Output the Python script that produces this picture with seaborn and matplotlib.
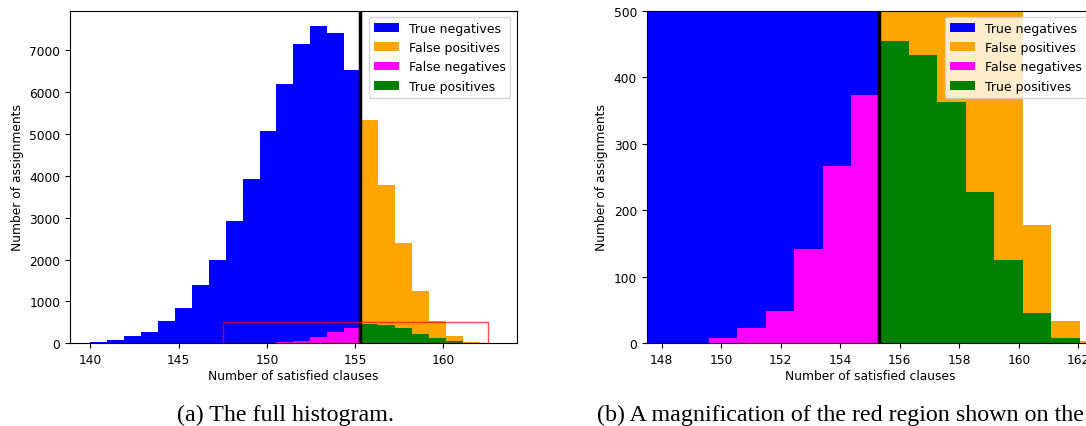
import numpy as np
import pandas as pd
import matplotlib
matplotlib.use("Agg")
import matplotlib.pyplot as plt
import seaborn as sns
from matplotlib.patches import Patch, Rectangle

# ---- data -------------------------------------------------------------
bin_range = (140, 163)       # satisfied clauses covered by the histogram
n_bins = 24
true_negatives = [24, 85, 165, 275, 530, 855, 1383, 1986, 2923, 3918, 5079, 6199,
                  7153, 7573, 7415, 6540, 0, 0, 0, 0, 0, 0, 0, 0]
false_positives = [0] * 16 + [5331, 3774, 2392, 1247, 530, 178, 33, 3]
false_negatives = [0] * 10 + [8, 23, 48, 141, 266, 373] + [0] * 8
true_positives = [0] * 16 + [455, 434, 363, 228, 125, 45, 8, 0]

categories = ["True negatives", "False positives", "False negatives", "True positives"]
series = [true_negatives, false_positives, false_negatives, true_positives]
colors = ["#0000ff", "#ffa500", "#ff00ff", "#008000"]

threshold = 155.3
zoom_x = (147.5, 162.5)
zoom_y = (0, 500)

captions = ["(a) The full histogram.",
            "(b) A magnification of the red region shown on the"]

# ---- figure -----------------------------------------------------------
plt.rcParams.update({"font.size": 8.8, "xtick.labelsize": 8.8, "ytick.labelsize": 8.8})

fig = plt.figure(figsize=(10.86, 4.27), dpi=100)
ax1 = fig.add_axes([0.0645, 0.1937, 0.4113, 0.7789])
ax2 = fig.add_axes([0.5955, 0.1937, 0.4113, 0.7789])

edges = np.linspace(bin_range[0], bin_range[1], n_bins + 1)
centers = (edges[:-1] + edges[1:]) / 2
for ax in (ax1, ax2):
    for name, counts, color in zip(categories, series, colors):
        df = pd.DataFrame({"clauses": centers, "count": counts})
        sns.histplot(data=df, x="clauses", weights="count", bins=n_bins,
                     binrange=bin_range, color=color, alpha=1, linewidth=0,
                     edgecolor="none", ax=ax)
    ax.axvline(threshold, color="black", lw=2.5)
    ax.set_xlabel("Number of satisfied clauses", fontsize=8.8, labelpad=2.5)
    ax.set_ylabel("Number of assignments", fontsize=8.8)
    handles = [Patch(facecolor=c, label=n) for n, c in zip(categories, colors)]
    ax.legend(handles=handles, loc="upper right", fontsize=9)

ax1.add_patch(Rectangle((zoom_x[0], zoom_y[0]), zoom_x[1] - zoom_x[0], zoom_y[1] - zoom_y[0],
                        fill=False, edgecolor="red", alpha=0.7, lw=1.0, zorder=5))
ax1.set_xlim(138.85, 164.15)
ax1.set_ylim(0, 7950)
ax1.set_yticks(np.arange(0, 7001, 1000))

ax2.set_xlim(*zoom_x)
ax2.set_ylim(*zoom_y)
ax2.set_xticks(np.arange(148, 163, 2))

fig.text(177 / 1086, 1 - 415 / 427, captions[0], family="Liberation Serif",
         fontsize=17.3, ha="left", va="center")
fig.text(597 / 1086, 1 - 415 / 427, captions[1], family="Liberation Serif",
         fontsize=17.3, ha="left", va="center")

fig.savefig("out.png", dpi=100)
